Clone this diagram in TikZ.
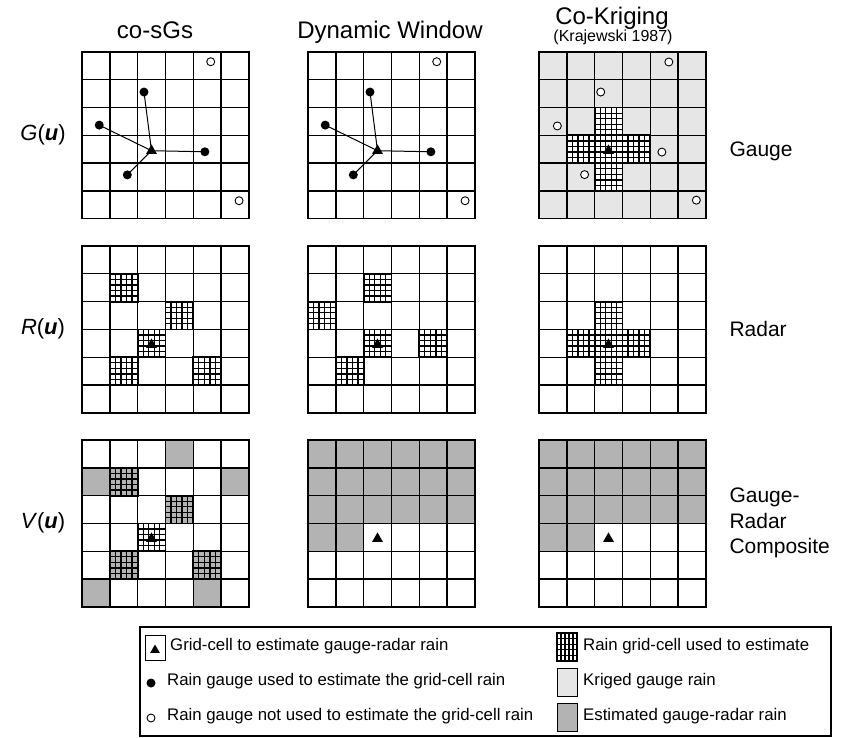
\documentclass[tikz,border=0pt]{standalone}
\usepackage{fontspec}
\setmainfont{Liberation Sans}
\usetikzlibrary{shapes.geometric}
\definecolor{krig}{HTML}{E6E6E6}
\definecolor{estg}{HTML}{B3B3B3}
\tikzset{
  gridline/.style={line width=1.4pt, line cap=rect},
  hatchline/.style={line width=1.25pt},
  hatchborder/.style={line width=1.8pt},
  tri/.style={regular polygon, regular polygon sides=3, fill=black, inner sep=0pt, minimum size=12.5pt},
  dot/.style={circle, fill=black, inner sep=0pt, minimum size=9pt},
  ring/.style={circle, draw=black, line width=0.9pt, fill=white, inner sep=0pt, minimum size=8pt},
  link/.style={line width=1pt},
  cellgrid/.style 2 args={xshift=#1pt, yshift=-#2pt, x=27.8pt, y=-27.8pt},
  title/.style={font=\fontsize{24}{28}\selectfont},
  rowlab/.style={font=\fontsize{22}{26}\selectfont},
  sidelab/.style={font=\fontsize{21}{25.5}\selectfont, anchor=west, align=left},
  legtext/.style={font=\fontsize{16.8}{20}\selectfont, anchor=mid west, inner sep=0pt}
}
\newcommand{\gfill}[3]{\fill[#3] (#1,#2) rectangle ++(1,1);}
\newcommand{\hcell}[2]{%
  \foreach \hk in {0.2,0.4,0.6,0.8}{%
    \draw[hatchline] (#1+\hk,#2) -- (#1+\hk,#2+1);
    \draw[hatchline] (#1,#2+\hk) -- (#1+1,#2+\hk);}%
  \draw[hatchborder] (#1,#2) rectangle ++(1,1);}
\newcommand{\gridsix}{\foreach \gk in {0,...,6}{\draw[gridline] (\gk,0) -- (\gk,6); \draw[gridline] (0,\gk) -- (6,\gk);}}
\begin{document}
\begin{tikzpicture}[x=1pt,y=-1pt]
\useasboundingbox (0,0) rectangle (849,738);
% titles
\node[title, anchor=base] (h1) at (155,39) {co-sGs};
\node[title, anchor=base] (h2) at (390,39) {Dynamic Window};
\node[title, anchor=base] (h3) at (612,25) {Co-Kriging};
\node[font=\fontsize{16}{19}\selectfont, anchor=base] (h3b) at (613,42) {(Krajewski 1987)};
% row labels
\node[rowlab] (rG) at (43,135) {\textit{G}(\textbf{\textit{u}})};
\node[rowlab] (rR) at (43,329) {\textit{R}(\textbf{\textit{u}})};
\node[rowlab] (rV) at (43,523) {\textit{V}(\textbf{\textit{u}})};
% side labels
\node[sidelab] (sG) at (726,151) {Gauge};
\node[sidelab] (sR) at (726,329) {Radar};
\node[sidelab] (sV) at (726,523) {Gauge-\\Radar\\Composite};
% ---- row 1
\begin{scope}[cellgrid={82}{52}]
 \gridsix
 \node[tri] (t11) at (2.5,3.55) {};
 \node[dot] (a11) at (2.23,1.44) {};
 \node[dot] (b11) at (0.62,2.63) {};
 \node[dot] (c11) at (4.42,3.59) {};
 \node[dot] (d11) at (1.63,4.42) {};
 \node[ring] (o11) at (4.63,0.35) {};
 \node[ring] (p11) at (5.65,5.35) {};
 \foreach \nn in {a11,b11,c11,d11} \draw[link] (t11.center) -- (\nn.center);
\end{scope}
\begin{scope}[cellgrid={308}{52}]
 \gridsix
 \node[tri] (t12) at (2.5,3.55) {};
 \node[dot] (a12) at (2.23,1.44) {};
 \node[dot] (b12) at (0.62,2.63) {};
 \node[dot] (c12) at (4.42,3.59) {};
 \node[dot] (d12) at (1.63,4.42) {};
 \node[ring] (o12) at (4.63,0.35) {};
 \node[ring] (p12) at (5.65,5.35) {};
 \foreach \nn in {a12,b12,c12,d12} \draw[link] (t12.center) -- (\nn.center);
\end{scope}
\begin{scope}[cellgrid={539}{52}]
 \fill[krig] (0,0) rectangle (6,6);
 \foreach \cc/\rr in {2/2,1/3,2/3,3/3,2/4} {\gfill{\cc}{\rr}{white} \hcell{\cc}{\rr}}
 \gridsix
 \node[tri] (t13) at (2.5,3.55) {};
 \node[ring] (a13) at (4.67,0.36) {};
 \node[ring] (b13) at (2.22,1.44) {};
 \node[ring] (c13) at (0.66,2.66) {};
 \node[ring] (d13) at (4.42,3.6) {};
 \node[ring] (e13) at (1.64,4.41) {};
 \node[ring] (f13) at (5.66,5.33) {};
\end{scope}
% ---- row 2
\begin{scope}[cellgrid={82}{246}]
 \foreach \cc/\rr in {1/1,3/2,2/3,1/4,4/4} {\hcell{\cc}{\rr}}
 \gridsix
 \node[tri] (t21) at (2.5,3.55) {};
\end{scope}
\begin{scope}[cellgrid={308}{246}]
 \foreach \cc/\rr in {2/1,0/2,2/3,4/3,1/4} {\hcell{\cc}{\rr}}
 \gridsix
 \node[tri] (t22) at (2.5,3.55) {};
\end{scope}
\begin{scope}[cellgrid={539}{246}]
 \foreach \cc/\rr in {2/2,1/3,2/3,3/3,2/4} {\hcell{\cc}{\rr}}
 \gridsix
 \node[tri] (t23) at (2.5,3.55) {};
\end{scope}
% ---- row 3
\begin{scope}[cellgrid={82}{440}]
 \foreach \cc/\rr in {3/0,0/1,5/1,0/5,4/5,1/1,3/2,1/4,4/4} {\gfill{\cc}{\rr}{estg}}
 \foreach \cc/\rr in {1/1,3/2,2/3,1/4,4/4} {\hcell{\cc}{\rr}}
 \gridsix
 \node[tri] (t31) at (2.5,3.55) {};
\end{scope}
\begin{scope}[cellgrid={308}{440}]
 \fill[estg] (0,0) rectangle (6,3);
 \fill[estg] (0,3) rectangle (2,4);
 \gridsix
 \node[tri] (t32) at (2.5,3.55) {};
\end{scope}
\begin{scope}[cellgrid={539}{440}]
 \fill[estg] (0,0) rectangle (6,3);
 \fill[estg] (0,3) rectangle (2,4);
 \gridsix
 \node[tri] (t33) at (2.5,3.55) {};
\end{scope}
% ---- legend
\draw[line width=1.2pt] (140,627) rectangle (831,736);
\node[draw, line width=1pt, minimum width=20pt, minimum height=25pt, inner sep=0pt] (lbox) at (155,648) {};
\node[tri, minimum size=11pt] (ltri) at (155,650) {};
\node[legtext] (l1) at (170,648) {Grid-cell to estimate gauge-radar rain};
\node[dot] (ldot) at (151,683) {};
\node[legtext] (l2) at (167,683) {Rain gauge used to estimate the grid-cell rain};
\node[ring] (lring) at (151,718) {};
\node[legtext] (l3) at (167,718) {Rain gauge not used to estimate the grid-cell rain};
\begin{scope}[xshift=557pt, yshift=-633pt, x=20pt, y=-28pt]
 \gfill{0}{0}{white}
 \hcell{0}{0}
\end{scope}
\draw[line width=1pt, fill=krig] (557,668) rectangle (577,696);
\draw[line width=1pt, fill=estg] (557,703) rectangle (577,731);
\node[legtext] (r1) at (583,648) {Rain grid-cell used to estimate};
\node[legtext] (r2) at (583,683) {Kriged gauge rain};
\node[legtext] (r3) at (583,718) {Estimated gauge-radar rain};
\end{tikzpicture}
\end{document}
